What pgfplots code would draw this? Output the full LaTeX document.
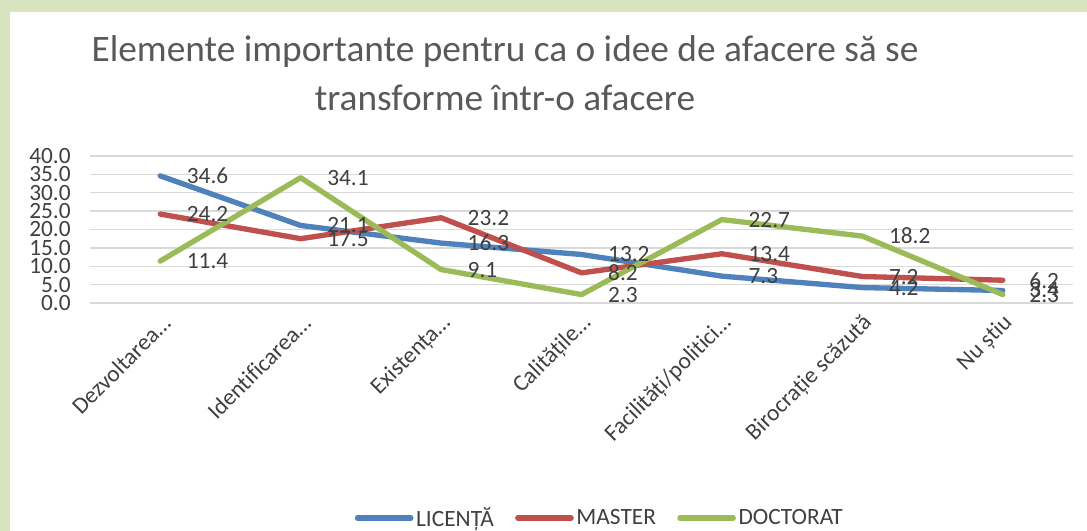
\documentclass[border=0pt]{standalone}
\usepackage{fontspec}
\setmainfont{Carlito}[Ligatures={NoCommon}]
\usepackage{pgfplots}
\pgfplotsset{compat=1.18}
\definecolor{bggreen}{HTML}{D7E4BD}
\definecolor{cblue}{HTML}{4F81BD}
\definecolor{cred}{HTML}{C0504D}
\definecolor{cgreen}{HTML}{9BBB59}
\definecolor{txt}{HTML}{404040}
\definecolor{ttl}{HTML}{595959}
\definecolor{gridc}{HTML}{D9D9D9}
\newcommand{\fs}{\fontsize{17.5pt}{20pt}\selectfont}
\begin{document}
\begin{tikzpicture}[x=0.75pt,y=0.75pt]
\fill[bggreen] (0,0) rectangle (1087,531);
\fill[white] (10,0) rectangle (1087,519);
\node[text=ttl, font=\fontsize{28pt}{32pt}\selectfont] at (505,479) {Elemente importante pentru ca o idee de afacere să se};
\node[text=ttl, font=\fontsize{28pt}{32pt}\selectfont] at (505,433) {transforme într-o afacere};
\begin{axis}[
  at={(67.5pt,171pt)}, anchor=south west,
  scale only axis, width=737.25pt, height=110.25pt,
  xmin=-0.5, xmax=6.5, ymin=0, ymax=40,
  clip=false,
  xtick={0,1,2,3,4,5,6},
  xticklabels={Dezvoltarea…, Identificarea…, Existența…, Calitățile…, Facilități/politici…, Birocrație scăzută, Nu știu},
  ytick={0,5,10,15,20,25,30,35,40},
  ymajorgrids, grid style={gridc, line width=1.1pt},
  axis line style={draw=none},
  major tick length=0pt,
  tick label style={font=\fs, text=txt},
  /pgf/number format/.cd, fixed, fixed zerofill, precision=1, assume math mode=true, /pgfplots/.cd,
  y tick label style={xshift=-11pt},
  x tick label style={xshift=7pt, yshift=-10pt, rotate=45, anchor=east},
  nodes near coords,
  every node near coord/.append style={font=\fs, color=txt, anchor=west, xshift=18pt, inner sep=0pt},
  legend style={at={(0.519,-1.4626)}, anchor=center, draw=none, fill=none, font=\fs, text=txt,
    /tikz/every even column/.append style={column sep=14pt}},
  legend columns=3,
  legend image code/.code={\draw[#1, line cap=round] (0pt,0pt) -- (40pt,0pt);},
]
\addplot[cblue, line width=4pt, line join=round, line cap=round, mark=none] coordinates {(0,34.6) (1,21.1) (2,16.3) (3,13.2) (4,7.3) (5,4.2) (6,3.4)};
\addlegendentry{LICENȚĂ}
\addplot[cred, line width=4pt, line join=round, line cap=round, mark=none] coordinates {(0,24.2) (1,17.5) (2,23.2) (3,8.2) (4,13.4) (5,7.2) (6,6.2)};
\addlegendentry{MASTER}
\addplot[cgreen, line width=4pt, line join=round, line cap=round, mark=none] coordinates {(0,11.4) (1,34.1) (2,9.1) (3,2.3) (4,22.7) (5,18.2) (6,2.3)};
\addlegendentry{DOCTORAT}
\end{axis}
\pgfresetboundingbox
\path[use as bounding box] (0,0) rectangle (1087,531);
\end{tikzpicture}
\end{document}
